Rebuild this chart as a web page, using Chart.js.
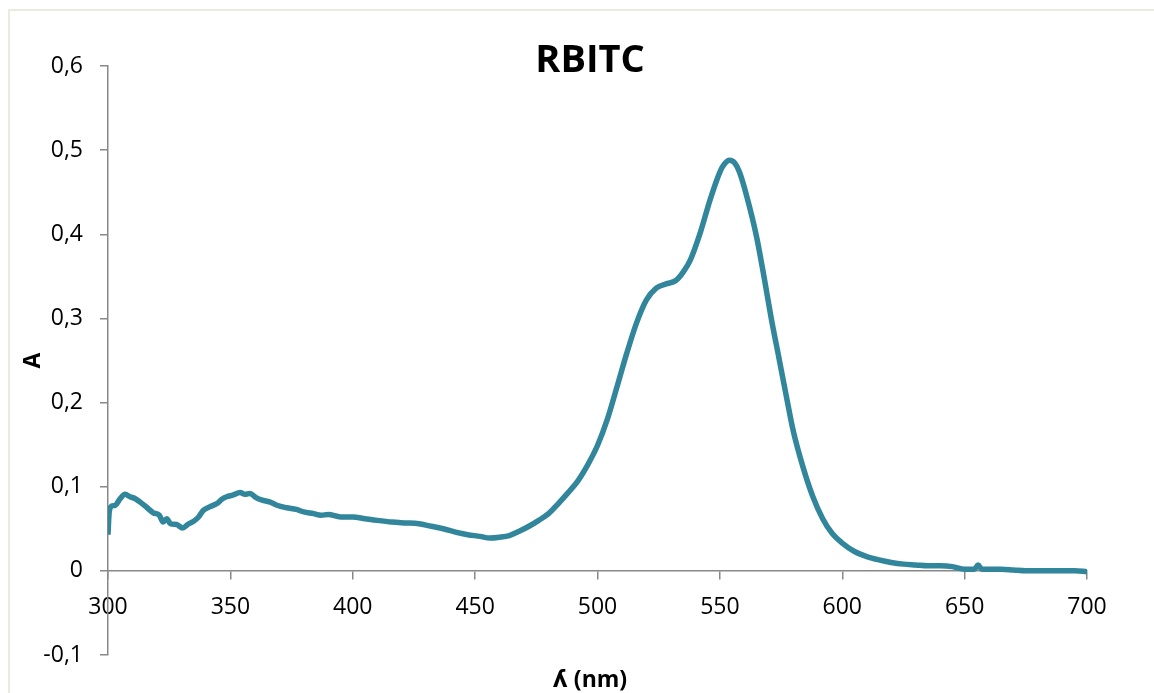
<!DOCTYPE html>
<html>
<head>
<meta charset="utf-8">
<title>RBITC</title>
<script src="https://cdn.jsdelivr.net/npm/chart.js@4.4.1/dist/chart.umd.min.js"></script>
<style>
    html, body { margin: 0; padding: 0; background: #ffffff; overflow: hidden; }
    #moldura {
        position: absolute; left: 8px; top: 9px; width: 1300px; height: 800px;
        border-top: 2px solid #ECEADF; border-left: 2px solid #ECEADF;
    }
    #wrap { position: absolute; left: 0; top: 0; width: 1180px; height: 693px; }
</style>
</head>
<body>
<div id="moldura"></div>
<div id="wrap"><canvas id="espectro" width="1180" height="693"></canvas></div>
<script>
// Espectro de absorção UV-Vis do RBITC
const comprimentos = [
    300, 300.5, 301.5, 303, 305, 307, 309, 311, 313, 316, 318.5, 321, 322.5, 324, 325.5, 328,
    330.5, 333, 335, 337, 339, 341.5, 344.5, 346.5, 348.5, 351, 354, 356, 358, 360.5, 363, 366,
    369, 373, 377, 380, 384, 387, 390, 395, 400, 405, 410, 416, 421, 427, 432, 437, 442, 447,
    452, 456, 460, 464, 468, 472, 476, 480, 484, 488, 492, 496, 500, 504, 508, 512, 516, 520,
    524, 528, 532, 535, 538, 542, 546, 550, 552, 554, 556, 558, 561, 565, 568, 571, 574, 577,
    580, 584, 588, 592, 596, 600, 605, 610, 615, 620, 625, 630, 635, 640, 645, 650, 654, 655.5,
    657, 660, 665, 670, 675, 680, 685, 690, 695, 700
];
const absorbancia = [
    0.043, 0.070, 0.077, 0.078, 0.086, 0.091, 0.088, 0.086, 0.082, 0.075, 0.069, 0.066, 0.058, 0.062, 0.056, 0.055,
    0.051, 0.056, 0.059, 0.064, 0.072, 0.076, 0.080, 0.085, 0.088, 0.090, 0.093, 0.091, 0.092, 0.087, 0.084, 0.082,
    0.078, 0.075, 0.073, 0.070, 0.068, 0.066, 0.067, 0.064, 0.064, 0.062, 0.060, 0.058, 0.057, 0.056, 0.053, 0.050, 0.046, 0.043,
    0.041, 0.039, 0.040, 0.042, 0.047, 0.053, 0.060, 0.068, 0.080, 0.093, 0.107, 0.126, 0.149, 0.180, 0.219, 0.259, 0.295, 0.322,
    0.336, 0.341, 0.345, 0.355, 0.370, 0.402, 0.441, 0.474, 0.484, 0.488, 0.485, 0.474, 0.445, 0.397, 0.350, 0.300, 0.255, 0.210,
    0.166, 0.123, 0.088, 0.062, 0.044, 0.033, 0.023, 0.017, 0.013, 0.010, 0.008, 0.007, 0.006, 0.006, 0.005, 0.002, 0.002, 0.007,
    0.002, 0.002, 0.002, 0.001, 0.000, 0.000, 0.000, 0.000, 0.000, -0.001
];

// Eixos
const eixoX = { min: 300, max: 700, passo: 50 };
const eixoY = { min: -0.1, max: 0.6, passo: 0.1 };

const corLinha = '#31869B';
const corEixo = '#888888';
const fonte = '"Open Sans", "DejaVu Sans", sans-serif';

const pontos = comprimentos.map((c, i) => ({ x: c, y: absorbancia[i] }));

// 0,1 em vez de 0.1
const formatarY = (v) => {
    const r = Math.round(v * 10) / 10;
    return r === 0 ? '0' : String(r).replace('.', ',');
};

new Chart(document.getElementById('espectro'), {
    type: 'line',
    data: {
        datasets: [{
            label: 'RBITC',
            data: pontos,
            borderColor: corLinha,
            backgroundColor: corLinha,
            borderWidth: 5.5,
            pointRadius: 0,
            cubicInterpolationMode: 'monotone',
            fill: false
        }]
    },
    options: {
        responsive: false,
        animation: false,
        layout: { padding: 0 },
        plugins: {
            legend: { display: false },
            tooltip: { enabled: false },
            title: {
                display: true,
                text: 'RBITC',
                color: '#000000',
                font: { family: fonte, size: 38, weight: 'bold', lineHeight: 1.2 },
                padding: { top: 38, bottom: -17.6 }
            },
            subtitle: {
                display: true,
                position: 'bottom',
                text: 'ʎ (nm)',
                color: '#000000',
                font: { family: fonte, size: 23, weight: 'bold', lineHeight: 1.2 },
                padding: { top: 12, bottom: -1.6 }
            }
        },
        scales: {
            x: {
                type: 'linear',
                position: { y: 0 },
                min: eixoX.min,
                max: eixoX.max,
                border: { display: true, color: corEixo, width: 1.5 },
                grid: { drawOnChartArea: false, drawTicks: true, tickLength: 8, color: corEixo, lineWidth: 1.5 },
                ticks: {
                    stepSize: eixoX.passo,
                    autoSkip: false,
                    maxRotation: 0,
                    padding: 15,
                    color: '#000000',
                    font: { family: fonte, size: 23 }
                }
            },
            y: {
                type: 'linear',
                position: 'left',
                min: eixoY.min,
                max: eixoY.max,
                afterFit: (scale) => { scale.width = 108; },
                border: { display: true, color: corEixo, width: 1.5 },
                grid: { drawOnChartArea: false, drawTicks: true, tickLength: 8, color: corEixo, lineWidth: 1.5 },
                ticks: {
                    stepSize: eixoY.passo,
                    padding: 17,
                    color: '#000000',
                    font: { family: fonte, size: 23 },
                    callback: formatarY
                },
                title: {
                    display: true,
                    text: 'A',
                    color: '#000000',
                    font: { family: fonte, size: 23, weight: 'bold', lineHeight: 1.2 },
                    padding: { top: 19.2, bottom: 0 }
                }
            },
            // margem à direita, só ocupa espaço
            margemDireita: {
                type: 'linear',
                position: 'right',
                min: 0,
                max: 1,
                afterFit: (scale) => { scale.width = 93; },
                border: { display: false },
                grid: { display: false },
                ticks: { display: false }
            }
        }
    }
});
</script>
</body>
</html>
